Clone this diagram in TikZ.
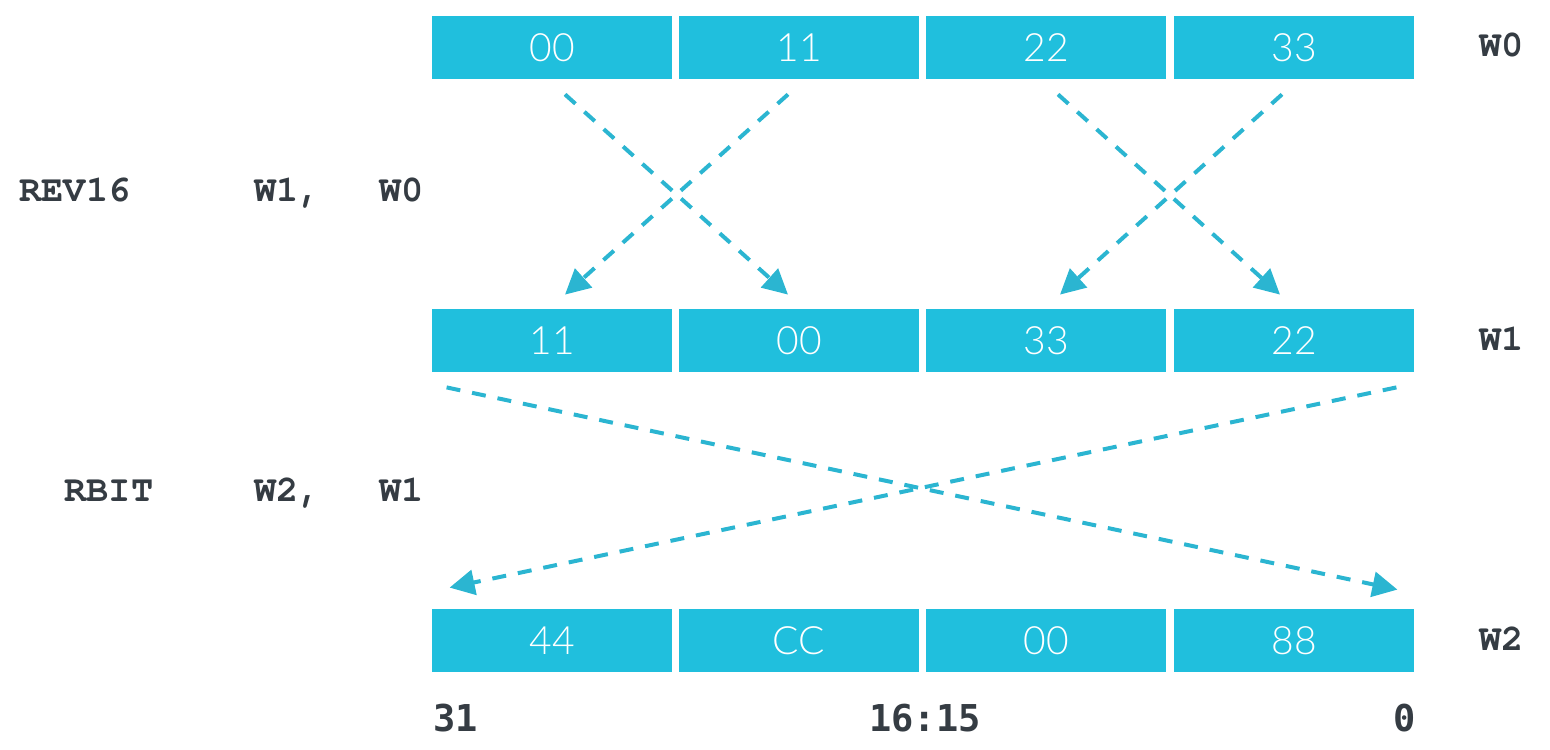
\documentclass[tikz,border=0pt]{standalone}
\usepackage{fontspec}
\setmainfont{Lato}[UprightFont=* Light]
\newfontfamily\codefont{TeX Gyre Cursor}
\newfontfamily\bitfont{DejaVu Sans Mono}
\usetikzlibrary{arrows.meta,calc}
\definecolor{regcyan}{HTML}{20BFDD}
\definecolor{arrcyan}{HTML}{2BB5D1}
\definecolor{inkgray}{HTML}{353C43}
\tikzset{
  byte/.style={fill=regcyan, minimum width=120pt, minimum height=31.5pt, inner sep=0pt,
    text=white, font=\fontsize{19.5}{19.5}\selectfont},
  reg/.style={text=inkgray, anchor=west, inner sep=0pt, text height=10pt, text depth=0pt,
    font=\codefont\bfseries\fontsize{18.5}{18.5}\selectfont},
  bitno/.style={text=inkgray, inner sep=0pt, font=\bitfont\bfseries\fontsize{18.5}{18.5}\selectfont},
  swap/.style={arrcyan, line width=2pt, dash pattern=on 7pt off 6pt, -{Triangle[length=12.5pt,width=12.5pt]}}
}
\begin{document}
\begin{tikzpicture}[x=0.5pt,y=-0.5pt]
            \useasboundingbox (0,0) rectangle (1550,749);

            \node[byte] (w0a) at (552,47.5) {00};
            \node[byte] (w0b) at (799,47.5) {11};
            \node[byte] (w0c) at (1046,47.5) {22};
            \node[byte] (w0d) at (1294,47.5) {33};

            \node[byte] (w1a) at (552,340.5) {11};
            \node[byte] (w1b) at (799,340.5) {00};
            \node[byte] (w1c) at (1046,340.5) {33};
            \node[byte] (w1d) at (1294,340.5) {22};

            \node[byte] (w2a) at (552,640.5) {44};
            \node[byte] (w2b) at (799,640.5) {CC};
            \node[byte] (w2c) at (1046,640.5) {00};
            \node[byte] (w2d) at (1294,640.5) {88};

            \node[reg] (lw0) at (1479,47) {W0};
            \node[reg] (lw1) at (1479,340) {W1};
            \node[reg] (lw2) at (1479,640) {W2};

            \node[reg] (rev) at (19,191) {REV16};
            \node[reg] (revd) at (254,191) {W1,};
            \node[reg] (revs) at (379,191) {W0};
            \node[reg] (rbit) at (64,491) {RBIT};
            \node[reg] (rbitd) at (254,491) {W2,};
            \node[reg] (rbits) at (379,491) {W1};

            \node[bitno, anchor=west] (b31) at (433,718) {31};
            \node[bitno] (b16) at (925,718) {16:15};
            \node[bitno] (b0) at (1405,718) {0};

            \coordinate (sA) at ($(w0a.south)+(13,15)$);
            \coordinate (sB) at ($(w0b.south)+(-11,15)$);
            \coordinate (sC) at ($(w0c.south)+(12,15)$);
            \coordinate (sD) at ($(w0d.south)+(-12,15)$);
            \coordinate (tA) at ($(w1a.north)+(13,-14)$);
            \coordinate (tB) at ($(w1b.north)+(-11,-14)$);
            \coordinate (tC) at ($(w1c.north)+(14,-14)$);
            \coordinate (tD) at ($(w1d.north)+(-14,-14)$);

            \draw[swap] (sA) -- (tB);
            \draw[swap] (sB) -- (tA);
            \draw[swap] (sC) -- (tD);
            \draw[swap] (sD) -- (tC);

            \coordinate (uL) at ($(w1a.south west)+(15,15)$);
            \coordinate (uR) at ($(w1d.south east)+(-18,15)$);
            \coordinate (vL) at ($(w2a.north west)+(18,-21)$);
            \coordinate (vR) at ($(w2d.north east)+(-17,-19)$);

            \draw[swap] (uL) -- (vR);
            \draw[swap] (uR) -- (vL);
        \end{tikzpicture}
\end{document}
